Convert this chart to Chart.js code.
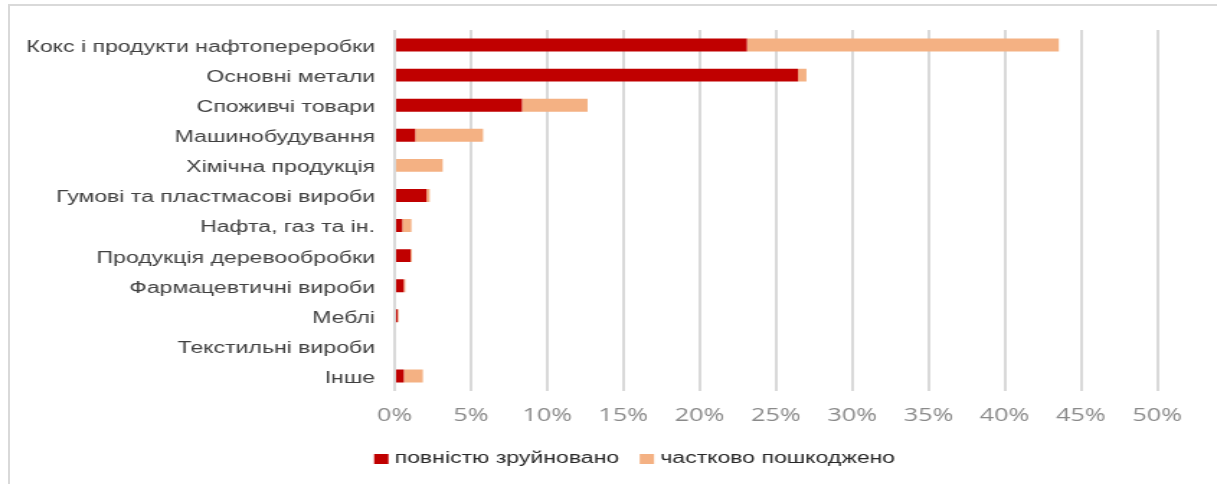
<!DOCTYPE html>
<html>
<head>
<meta charset="utf-8">
<script src="https://cdn.jsdelivr.net/npm/chart.js@4.4.1/dist/chart.umd.min.js"></script>
<style>
  html, body { margin: 0; padding: 0; background: #fff; }
  #frame {
    position: absolute; left: 8px; top: 4px; width: 1209px; height: 480px;
    border-top: 2px solid #d9d9d9; border-left: 2px solid #d9d9d9; box-sizing: border-box;
  }
  #wrap {
    position: absolute; left: 0; top: 0; width: 845px; height: 484px;
    transform: scaleX(1.4402); transform-origin: 0 0;
  }
</style>
</head>
<body>
<div id="frame"></div>
<div id="wrap"><canvas id="plot" width="845" height="484"></canvas></div>
<script>
const categories = [
    'Кокс і продукти нафтопереробки',
    'Основні метали',
    'Споживчі товари',
    'Машинобудування',
    'Хімічна продукція',
    'Гумові та пластмасові вироби',
    'Нафта, газ та ін.',
    'Продукція деревообробки',
    'Фармацевтичні вироби',
    'Меблі',
    'Текстильні вироби',
    'Інше'
];
// % of enterprises
const destroyed = [23.1, 26.45, 8.35, 1.35, 0, 2.1, 0.5, 1.05, 0.6, 0.2, 0, 0.6];
const damaged = [20.45, 0.55, 4.3, 4.45, 3.15, 0.2, 0.6, 0.08, 0.1, 0.06, 0, 1.25];
const xTicks = [0, 5, 10, 15, 20, 25, 30, 35, 40, 45, 50];

// legend sits left of centre in the original
const legendPlace = {
    id: 'legendPlace',
    beforeDraw(chart) {
        chart.legend.left = 245.5;
        chart.legend.top = 433;
    }
};

const canvas = document.getElementById('plot');
new Chart(canvas, {
    type: 'bar',
    data: {
        labels: categories,
        datasets: [{
            label: 'повністю зруйновано',
            data: destroyed,
            backgroundColor: '#C00000',
            borderWidth: 0
        }, {
            label: 'частково пошкоджено',
            data: damaged,
            backgroundColor: '#F4B183',
            borderWidth: 0
        }]
    },
    options: {
        indexAxis: 'y',
        responsive: false,
        animation: false,
        devicePixelRatio: 1,
        categoryPercentage: 1,
        barPercentage: 0.43,
        layout: { padding: { top: 30, left: 0, right: 41.5, bottom: 9 } },
        scales: {
            x: {
                stacked: true,
                min: 0,
                max: 50,
                afterFit: function(scale) { scale.height = 40; },
                afterBuildTicks: function(scale) {
                    scale.ticks = xTicks.map(v => ({ value: v }));
                },
                grid: { color: '#d9d9d9', lineWidth: 2, drawTicks: false },
                border: { display: false },
                ticks: {
                    padding: 15,
                    color: '#8a8a8a',
                    font: { family: 'Open Sans', size: 17.5 },
                    callback: v => v + '%'
                }
            },
            y: {
                stacked: true,
                afterFit: function(scale) { scale.width = 274; },
                grid: { display: false, drawTicks: false },
                border: { display: false },
                ticks: {
                    padding: 13.6,
                    labelOffset: 2.5,
                    color: '#404040',
                    font: { family: 'Liberation Sans', size: 16 }
                }
            }
        },
        plugins: {
            tooltip: { enabled: false },
            legend: {
                position: 'bottom',
                align: 'start',
                labels: {
                    usePointStyle: true,
                    pointStyle: 'rect',
                    boxWidth: 2.5,
                    boxHeight: 10,
                    padding: 18,
                    color: '#262626',
                    font: { family: 'Liberation Sans', size: 16 }
                }
            }
        }
    },
    plugins: [legendPlace]
});
</script>
</body>
</html>
